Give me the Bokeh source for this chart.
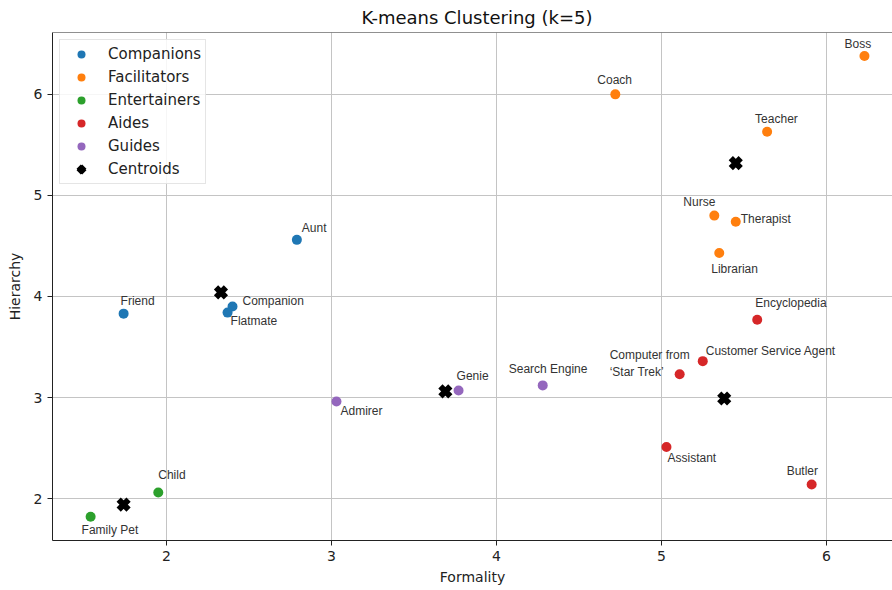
from bokeh.plotting import figure
from bokeh.models import Range1d, FixedTicker, Span, Legend, LegendItem, ColumnDataSource
from bokeh.core.properties import value
from bokeh.embed import file_html
from bokeh.resources import INLINE

# ---- data ----
cluster_names = ["Companions", "Facilitators", "Entertainers", "Aides", "Guides"]
cluster_colors = ["#1f77b4", "#ff7f0e", "#2ca02c", "#d62728", "#9467bd"]

names = ["Friend", "Aunt", "Companion", "Flatmate",
         "Coach", "Boss", "Teacher", "Nurse", "Therapist", "Librarian",
         "Child", "Family Pet",
         "Encyclopedia", "Customer Service Agent", "Computer from\n\u2018Star Trek\u2019", "Assistant", "Butler",
         "Genie", "Search Engine", "Admirer"]
formality = [1.74, 2.79, 2.40, 2.37,
             4.72, 6.23, 5.64, 5.32, 5.45, 5.35,
             1.95, 1.54,
             5.58, 5.25, 5.11, 5.03, 5.91,
             3.77, 4.28, 3.03]
hierarchy = [3.83, 4.56, 3.90, 3.84,
             6.00, 6.38, 5.63, 4.80, 4.74, 4.43,
             2.06, 1.82,
             3.77, 3.36, 3.23, 2.51, 2.14,
             3.07, 3.12, 2.96]
cluster = [0, 0, 0, 0,
           1, 1, 1, 1, 1, 1,
           2, 2,
           3, 3, 3, 3, 3,
           4, 4, 4]

centroid_x = [2.33, 5.45, 1.74, 5.38, 3.69]
centroid_y = [4.04, 5.32, 1.94, 2.99, 3.06]

x_ticks = [2, 3, 4, 5, 6]
y_ticks = [2, 3, 4, 5, 6]

# label offsets in screen px (dx right, dy down)
label_dx = [-3, 5, 10, 3,
            -18, -20, -12, -31, 5, -8,
            0, -9,
            -2, 3, -70, 1, -25,
            -2, -34, 4]
label_dy = [-13, -12, -6, 8,
            -14, -12, -13, -14, -3, 16,
            -17, 13,
            -17, -10, -11, 11, -13,
            -14, -16, 9]

W, H = 892, 590
p = figure(width=W, height=H, output_backend="svg", toolbar_location=None,
           x_range=Range1d(1.309, 1.309 + 840 / 165.0),
           y_range=Range1d(1.585, 6.612),
           min_border_left=52, min_border_right=0, min_border_top=0, min_border_bottom=50)

p.title.text = "K-means Clustering (k=5)"
p.title.text_font = "DejaVu Sans"
p.title.text_font_size = "18px"
p.title.text_font_style = "normal"
p.title.text_color = "#111111"
p.title.align = "left"
p.title.offset = 309
p.title.standoff = 9

p.outline_line_color = None
p.background_fill_color = "white"
p.border_fill_color = "white"

for ax, ticks, lab in ((p.xaxis[0], x_ticks, "Formality"), (p.yaxis[0], y_ticks, "Hierarchy")):
    ax.ticker = FixedTicker(ticks=ticks)
    ax.axis_label = lab
    ax.axis_label_text_font = "DejaVu Sans"
    ax.axis_label_text_font_size = "14px"
    ax.axis_label_text_font_style = "normal"
    ax.axis_label_text_color = "#222222"
    ax.major_label_text_font = "DejaVu Sans"
    ax.major_label_text_font_size = "14px"
    ax.major_label_text_color = "#222222"
    ax.major_tick_out = 5
    ax.major_tick_in = 0
    ax.minor_tick_out = 0
    ax.minor_tick_in = 0
    ax.axis_line_color = "#222222"
    ax.major_tick_line_color = "#222222"
    ax.major_label_standoff = 5
p.xaxis[0].axis_label_standoff = 5
p.yaxis[0].axis_label_standoff = 8

p.xgrid.ticker = FixedTicker(ticks=x_ticks)
p.ygrid.ticker = FixedTicker(ticks=y_ticks)
for g in (p.xgrid[0], p.ygrid[0]):
    g.grid_line_color = "#c4c4c4"
    g.grid_line_width = 1

top_spine = Span(location=6.612, dimension="width", line_color="#222222", line_width=1)
p.add_layout(top_spine)

items = []
for k, cname in enumerate(cluster_names):
    idx = [i for i, c in enumerate(cluster) if c == k]
    src = ColumnDataSource(dict(x=[formality[i] for i in idx], y=[hierarchy[i] for i in idx]))
    r = p.scatter("x", "y", source=src, size=10, marker="circle",
                  fill_color=cluster_colors[k], line_color=cluster_colors[k], line_width=0)
    items.append(LegendItem(label=cname, renderers=[r]))

rc = p.scatter(centroid_x, centroid_y, marker="x", size=14, line_width=6, line_color="black")
items.append(LegendItem(label="Centroids", renderers=[rc]))

lsrc = ColumnDataSource(dict(x=formality, y=hierarchy, t=names, dx=label_dx, dy=label_dy))
p.text("x", "y", text="t", source=lsrc, x_offset="dx", y_offset="dy",
       text_font=value("Liberation Sans"), text_font_size="12px", text_color="#333333",
       text_align="left", text_baseline="middle", text_line_height=1.2)

legend = Legend(items=items, location="top_left")
legend.label_text_font = "DejaVu Sans"
legend.label_text_font_size = "15px"
legend.label_text_color = "#222222"
legend.glyph_width = 34
legend.glyph_height = 20
legend.label_height = 20
legend.spacing = 3
legend.padding = 4
legend.margin = 7
legend.label_standoff = 10
legend.border_line_color = "#cccccc"
legend.border_line_width = 1
legend.background_fill_color = "white"
legend.background_fill_alpha = 0.85
p.add_layout(legend)

open("out.html", "w").write(file_html(p, INLINE))
